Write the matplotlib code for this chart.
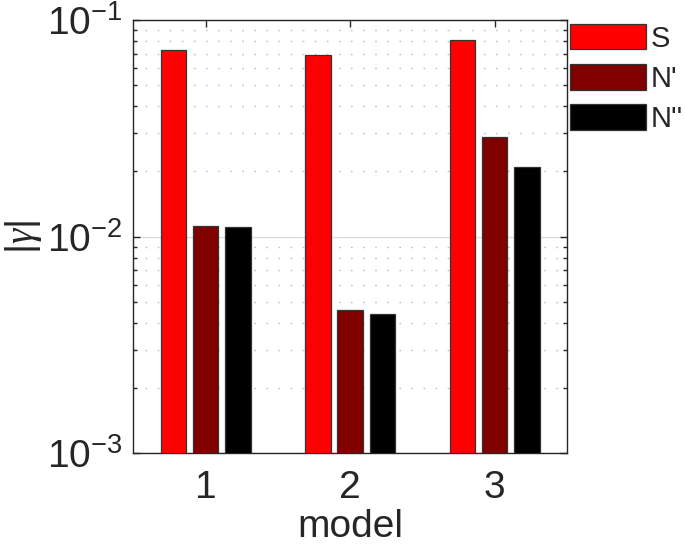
import numpy as np
import matplotlib
matplotlib.use('Agg')
import matplotlib.pyplot as plt
from matplotlib.ticker import LogLocator, NullFormatter

plt.rcParams['font.family'] = ['Liberation Sans', 'DejaVu Sans']
plt.rcParams['mathtext.fontset'] = 'custom'
plt.rcParams['mathtext.rm'] = 'Liberation Sans'
plt.rcParams['mathtext.it'] = 'Liberation Serif:italic'
plt.rcParams['mathtext.default'] = 'rm'

# data
models = [1, 2, 3]
series = ['S', "N'", "N''"]
S_vals = [0.0727, 0.0692, 0.0806]
Np_vals = [0.0112, 0.00458, 0.0287]
Npp_vals = [0.0111, 0.00438, 0.0210]
colors = ['#ff0000', '#800000', '#000000']

txt = '#262626'

fig = plt.figure(figsize=(6.85, 5.57), dpi=100)
ax = fig.add_axes([0.1946, 0.1862, 0.8277 - 0.1946, 0.964 - 0.1862])

x = np.array(models, dtype=float)
w = 0.176
off = 0.223
for i, (vals, c, name) in enumerate(zip([S_vals, Np_vals, Npp_vals], colors, series)):
    ax.bar(x + (i - 1) * off, vals, width=w, color=c, edgecolor='#333333',
           linewidth=0.9, label=name, zorder=3)

ax.set_yscale('log')
ax.set_ylim(1e-3, 1e-1)
ax.set_xlim(0.5, 3.5)
ax.set_xticks(models)
ax.set_xticklabels([str(m) for m in models])
ax.set_yticks([1e-3, 1e-2, 1e-1])
ax.set_yticklabels([r'$10^{-3}$', r'$10^{-2}$', r'$10^{-1}$'])
ax.yaxis.set_minor_locator(LogLocator(base=10, subs=np.arange(2, 10)))
ax.yaxis.set_minor_formatter(NullFormatter())

ax.set_axisbelow(True)
ax.grid(True, axis='y', which='major', color='#dcdcdc', linestyle='-', linewidth=1.0, zorder=0)
ax.grid(True, axis='y', which='minor', color='#c0c0c0', linestyle=(0, (1.2, 7.5)), linewidth=1.0, zorder=0)

ax.tick_params(which='both', direction='in', top=True, right=True, colors=txt,
               labelsize=28, width=1.0)
ax.tick_params(which='major', length=5)
ax.tick_params(which='minor', length=3)
ax.tick_params(axis='x', pad=12)
ax.tick_params(axis='y', pad=8)
for sp in ax.spines.values():
    sp.set_color(txt)
    sp.set_linewidth(1.0)

ax.set_xlabel('model', fontsize=28, color=txt, labelpad=2)
ax.set_ylabel(r'$|\mathit{\gamma}|$', fontsize=28, color=txt, labelpad=2)

leg = ax.legend(loc='upper left', bbox_to_anchor=(1.0, 1.0), frameon=False,
                fontsize=21, handlelength=2.6, handleheight=0.99,
                handletextpad=0.14, labelspacing=0.38, borderaxespad=0.0,
                borderpad=0.12)
for t in leg.get_texts():
    t.set_color(txt)

fig.savefig('out.png', dpi=100)
